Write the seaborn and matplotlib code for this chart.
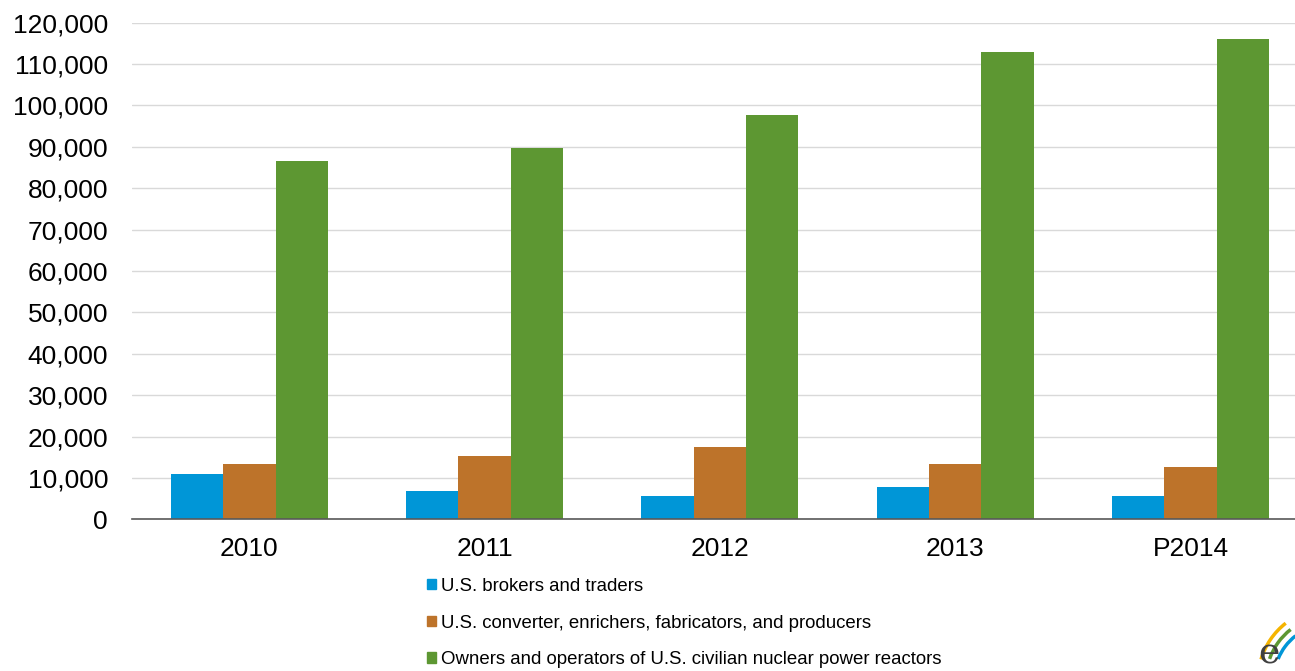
import numpy as np
import pandas as pd
import matplotlib.pyplot as plt
import seaborn as sns
from matplotlib.patches import Arc
from matplotlib.ticker import FuncFormatter, FixedLocator

# values
years = ['2010', '2011', '2012', '2013', 'P2014']
series = [
    'U.S. brokers and traders',
    'U.S. converter, enrichers, fabricators, and producers',
    'Owners and operators of U.S. civilian nuclear power reactors',
]
brokers = [10900, 6800, 5600, 7700, 5600]
converters = [13400, 15300, 17400, 13300, 12600]
owners = [86500, 89800, 97600, 113000, 116000]
colors = ['#0096D7', '#BD732A', '#5D9732']

df = pd.DataFrame({
    'year': years * 3,
    'series': [series[0]] * 5 + [series[1]] * 5 + [series[2]] * 5,
    'value': brokers + converters + owners,
})

sns.set_style('white')
plt.rcParams['font.family'] = ['Liberation Sans', 'DejaVu Sans']

fig = plt.figure(figsize=(12.95, 6.71), dpi=100)
ax = fig.add_axes([131.7 / 1295, 1 - 519.3 / 671, 1176.5 / 1295, 496.6 / 671])

sns.barplot(
    data=df, x='year', y='value', hue='series',
    palette=colors, width=0.667, ax=ax, legend=False,
    saturation=1, edgecolor='none',
)

# cosmetic stuff
ax.set(xlabel='', ylabel='', ylim=(0, 120000), xlim=(-0.5, 4.5))
ax.set_yticks(np.arange(0, 120001, 10000))
ax.yaxis.set_major_formatter(FuncFormatter(lambda v, p: f'{int(v):,}'))
ax.grid(axis='y', color='#D9D9D9', linewidth=1)
ax.set_axisbelow(True)
for s in ['left', 'right', 'top']:
    ax.spines[s].set_visible(False)
ax.spines['bottom'].set_color('#595959')
ax.spines['bottom'].set_linewidth(1.2)

ax.tick_params(axis='y', length=0, pad=17, labelsize=19, labelcolor='black')
ax.tick_params(axis='x', which='major', length=0, pad=13, labelsize=19, labelcolor='black')
ax.xaxis.set_minor_locator(FixedLocator(np.arange(-0.5, 5, 1)))
ax.tick_params(axis='x', which='minor', length=6, width=1, color='#595959', direction='out')

# legend below the chart
handles = [plt.Rectangle((0, 0), 1, 1, color=c) for c in colors]
fig.legend(
    handles, series, loc='upper left', bbox_to_anchor=(427 / 1295, 1 - 578 / 671),
    frameon=False, fontsize=13.4, handlelength=0.46, handleheight=0.46,
    handletextpad=0.27, labelspacing=1.05, borderaxespad=0, borderpad=0,
    labelcolor='black',
)

# partial eia logo in the corner
fig.text(1258 / 1295, 0.0, 'e', fontsize=26, color='#404040',
         family='DejaVu Serif', ha='left', va='bottom')
for r, t2, c in zip([72, 64, 56], [150, 146, 142], ['#F5B400', '#5D9732', '#0096D7']):
    fig.patches.append(Arc((1330 / 1295, 1 - 680 / 671), r * 2 / 1295, r * 2 / 671,
                           theta1=112, theta2=t2, color=c, linewidth=2.5,
                           transform=fig.transFigure))

fig.savefig('out.png', dpi=100)
